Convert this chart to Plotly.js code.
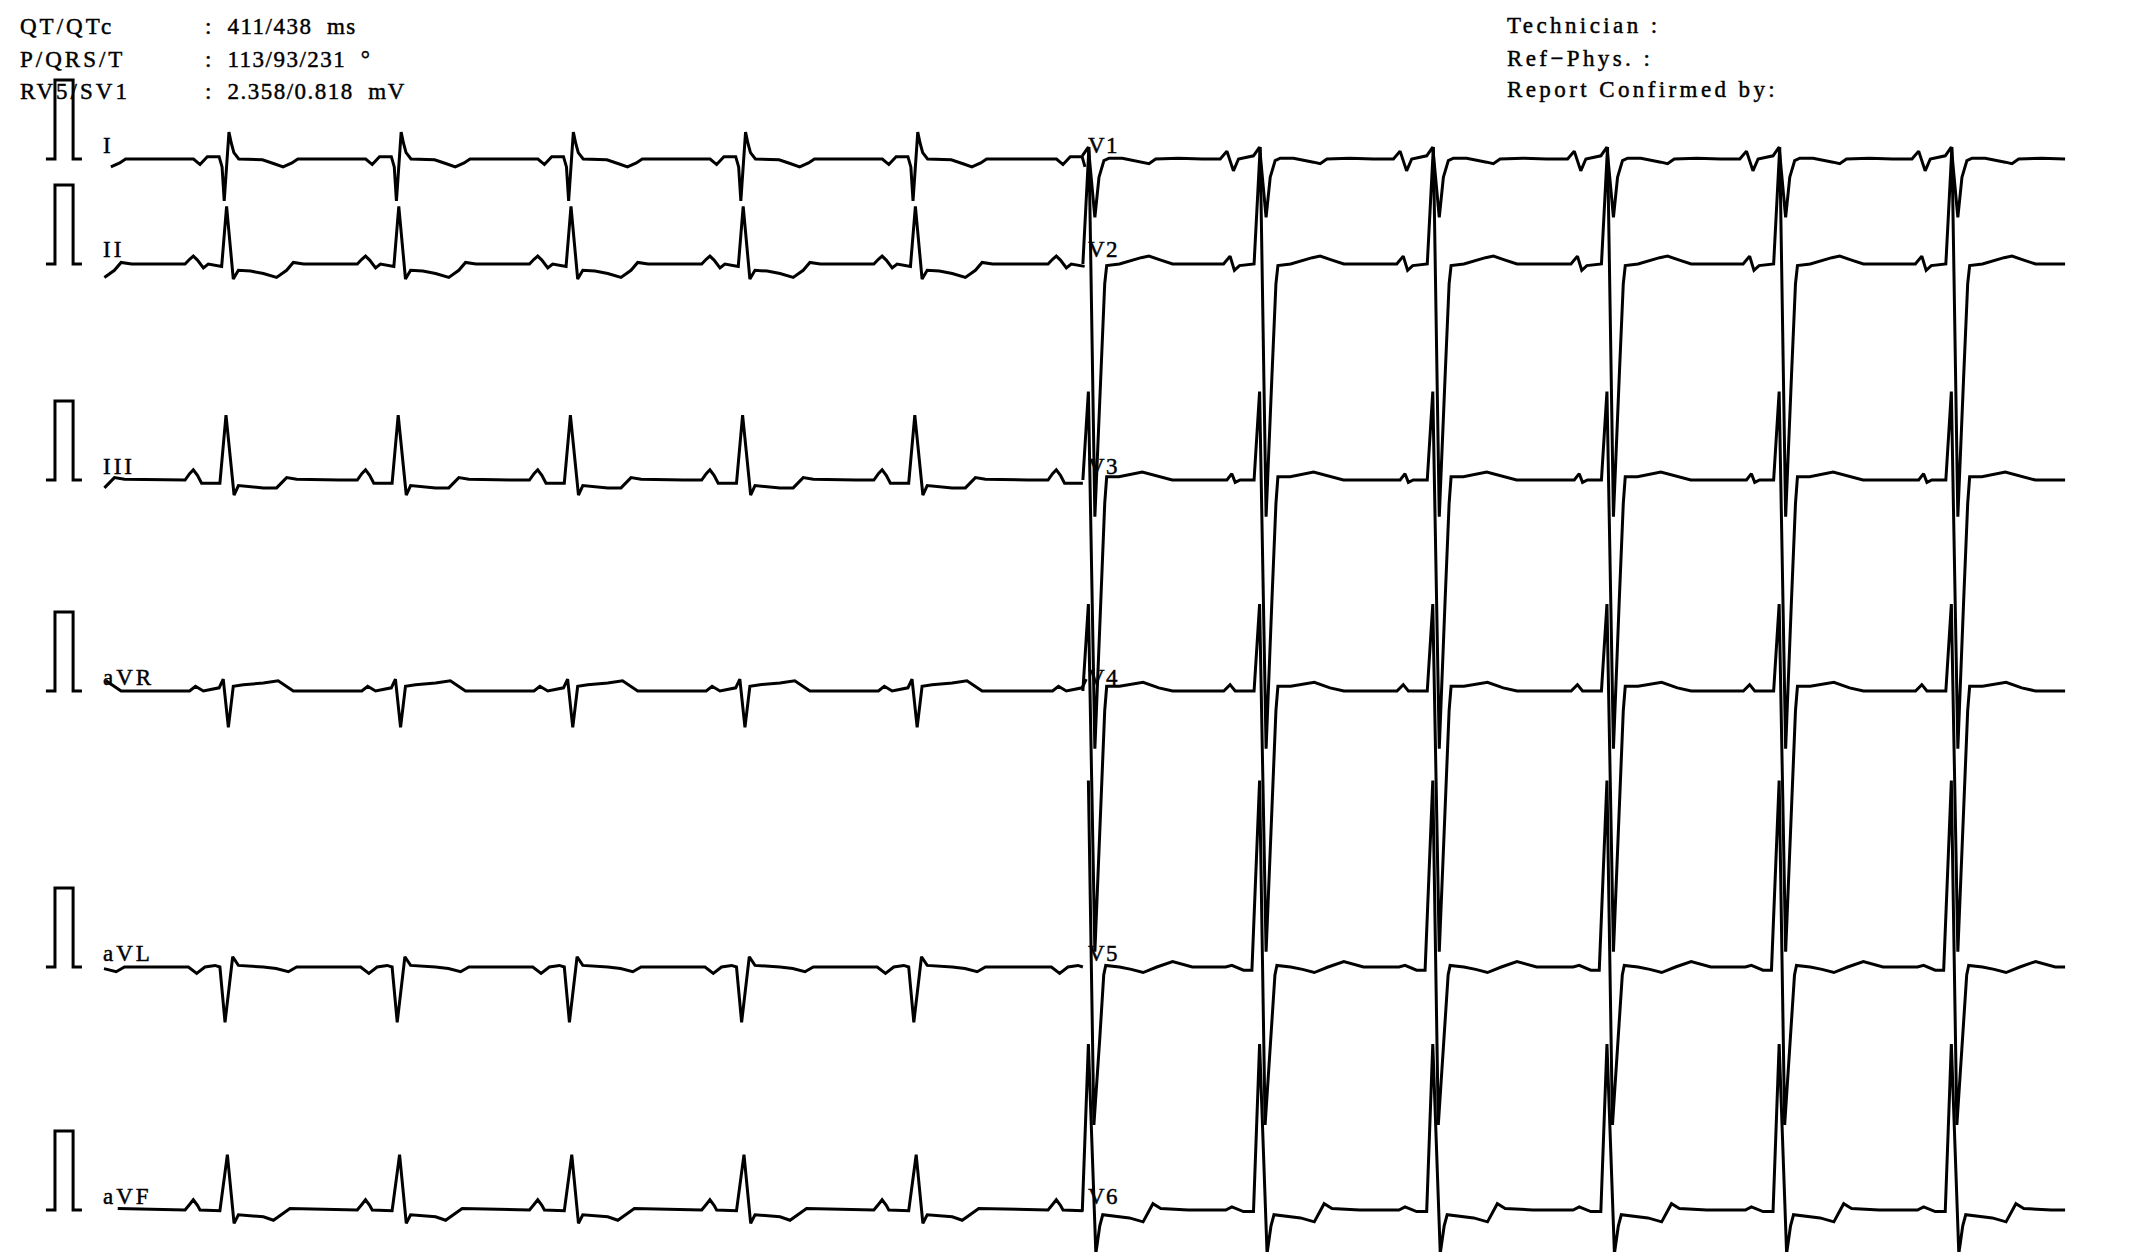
<!DOCTYPE html>
<html>
<head>
<meta charset="utf-8">
<script src="https://cdn.plot.ly/plotly-3.0.1.min.js"></script>
<style>
html,body{margin:0;padding:0;background:#fff;overflow:hidden}
.annotation-text{stroke:#000;stroke-width:0.45px}
</style>
</head>
<body>
<div id="ecg" style="width:2143px;height:1252px"></div>
<script>
// ---------- DATA (read from the strip) ----------
// Beat fiducial times (s); the first is the beat before the strip whose T wave is visible
const beatTimes = [-0.245, 0.630, 1.505, 2.380, 3.255, 4.130, 5.015, 5.885, 6.765, 7.650, 8.525, 9.400];

const limbLeads  = ["I", "II", "III", "aVR", "aVL", "aVF"];
const chestLeads = ["V1", "V2", "V3", "V4", "V5", "V6"];

// Beat templates: time offset from fiducial (s) and amplitude (mV)
const I_t   = [-0.30, -0.17, -0.137, -0.10, -0.04, -0.025, -0.014, 0.010, 0.022, 0.035, 0.06, 0.18, 0.24, 0.285, 0.33, 0.36, 0.57];
const I_mv  = [0, 0, -0.07, 0.03, 0.03, -0.10, -0.53, 0.34, 0.20, 0.08, 0.0, -0.01, -0.06, -0.10, -0.05, 0, 0];

const II_t  = [-0.30, -0.213, -0.19, -0.171, -0.15, -0.12, -0.095, -0.027, -0.002, 0.032, 0.058, 0.12, 0.185, 0.252, 0.303, 0.337, 0.39, 0.57];
const II_mv = [0, 0, 0.06, 0.10, 0.05, -0.05, 0, -0.03, 0.73, -0.19, -0.08, -0.09, -0.12, -0.17, -0.08, 0.02, 0, 0];

const III_t  = [-0.30, -0.213, -0.19, -0.171, -0.15, -0.129, -0.036, -0.005, 0.036, 0.058, 0.185, 0.252, 0.303, 0.354, 0.57];
const III_mv = [0, 0, 0.08, 0.13, 0.06, -0.04, -0.04, 0.82, -0.19, -0.07, -0.10, -0.10, 0.03, 0.01, 0];

const aVR_t  = [-0.30, -0.19, -0.16, -0.12, -0.04, -0.019, 0.007, 0.032, 0.083, 0.185, 0.26, 0.337, 0.57];
const aVR_mv = [0, 0, 0.06, 0.0, 0.04, 0.15, -0.46, 0.06, 0.08, 0.10, 0.13, 0, 0];

const aVL_t  = [-0.30, -0.196, -0.154, -0.112, -0.061, -0.036, -0.010, 0.029, 0.058, 0.185, 0.25, 0.312, 0.354, 0.57];
const aVL_mv = [0, 0, -0.08, 0, 0.02, 0, -0.70, 0.13, 0.02, 0, -0.02, -0.06, 0, 0];

const aVF_t  = [-0.30, -0.213, -0.19, -0.171, -0.15, -0.137, -0.036, 0.002, 0.036, 0.058, 0.185, 0.236, 0.32, 0.57];
const aVF_mv = [0, 0, 0.07, 0.13, 0.06, 0, -0.01, 0.70, -0.17, -0.06, -0.085, -0.13, 0.02, 0];

const V1_t  = [-0.30, -0.208, -0.174, -0.141, -0.115, -0.039, -0.008, 0.025, 0.046, 0.071, 0.097, 0.164, 0.266, 0.30, 0.334, 0.45, 0.57];
const V1_mv = [0, 0, 0.10, -0.15, 0, 0.04, 0.15, -0.74, -0.23, -0.02, 0.01, 0.01, -0.04, -0.06, 0, 0.01, 0];

const V2_t  = [-0.30, -0.191, -0.158, -0.136, -0.11, -0.036, -0.005, 0.025, 0.055, 0.075, 0.085, 0.15, 0.26, 0.30, 0.36, 0.42, 0.57];
const V2_mv = [0, 0, 0.10, -0.08, -0.02, 0, 1.48, -3.2, -1.4, -0.25, -0.02, 0, 0.08, 0.10, 0.05, 0, 0];

const V3_t  = [-0.30, -0.174, -0.149, -0.132, -0.107, -0.036, -0.008, 0.025, 0.055, 0.075, 0.085, 0.147, 0.266, 0.35, 0.418, 0.57];
const V3_mv = [0, 0, 0.08, -0.03, 0, 0, 1.12, -3.4, -1.5, -0.3, 0.04, 0.04, 0.10, 0.04, 0, 0];

const V4_t  = [-0.30, -0.19, -0.158, -0.132, -0.036, -0.008, 0.025, 0.055, 0.075, 0.085, 0.15, 0.27, 0.35, 0.42, 0.57];
const V4_mv = [0, 0, 0.08, 0, 0, 1.10, -3.3, -1.4, -0.25, 0.06, 0.06, 0.11, 0.04, 0, 0];

const V5_t  = [-0.30, -0.18, -0.149, -0.09, -0.047, -0.008, 0.02, 0.05, 0.07, 0.08, 0.15, 0.21, 0.27, 0.34, 0.42, 0.52, 0.57];
const V5_mv = [0, 0, 0.02, -0.04, -0.04, 2.36, -2.0, -0.9, -0.1, 0.02, 0, -0.03, -0.07, 0.0, 0.07, 0, 0];

const V6_t  = [-0.30, -0.18, -0.149, -0.09, -0.039, -0.008, 0.03, 0.05, 0.065, 0.12, 0.2, 0.27, 0.32, 0.36, 0.5, 0.57];
const V6_mv = [0, 0, 0.04, -0.02, -0.02, 2.1, -0.55, -0.2, -0.06, -0.08, -0.1, -0.15, 0.08, 0.02, 0, 0];

// 1 mV calibration pulse
const calT  = [-0.29, -0.244, -0.244, -0.152, -0.152, -0.107];
const calMv = [0, 0, 1, 1, 0, 0];

// Header text
const headerLabels = ["QT/QTc", "P/QRS/T", "RV5/SV1"];
const headerValues = ["411/438  ms", "113/93/231  °", "2.358/0.818  mV"];
const rightHeader  = ["Technician :", "Ref\u2212Phys. :", "Report Confirmed by:"];

// ---------- LAYOUT CONSTANTS ----------
const W = 2143, H = 1252;
const X0 = 103;          // px of t = 0
const PX_PER_S = 196.8;  // 25 mm/s
const PX_PER_MV = 79;    // 10 mm/mV
const rowPx = [159, 264, 480, 691, 967, 1210];
const limbWin = [0, 5.0], chestWin = [4.975, 10.0];
const FONT = "Liberation Serif, Times New Roman, serif";

const templates = {
  I: [I_t, I_mv], II: [II_t, II_mv], III: [III_t, III_mv],
  aVR: [aVR_t, aVR_mv], aVL: [aVL_t, aVL_mv], aVF: [aVF_t, aVF_mv],
  V1: [V1_t, V1_mv], V2: [V2_t, V2_mv], V3: [V3_t, V3_mv],
  V4: [V4_t, V4_mv], V5: [V5_t, V5_mv], V6: [V6_t, V6_mv]
};

function buildLead(name, win, offset) {
  const [tt, vv] = templates[name];
  const xs = [], ys = [];
  beatTimes.forEach(b => {
    tt.forEach((dt, i) => {
      const t = b + dt;
      if (t >= win[0] && t <= win[1]) { xs.push(t); ys.push(vv[i] + offset); }
    });
  });
  return { type: "scatter", mode: "lines", x: xs, y: ys, name: name,
           line: { color: "#000", width: 3 }, hoverinfo: "skip" };
}

const traces = [];
const annotations = [];
const px2x = p => p / W, px2y = p => 1 - p / H;

rowPx.forEach((rp, r) => {
  const off = -rp / PX_PER_MV;
  traces.push(buildLead(limbLeads[r], limbWin, off));
  traces.push(buildLead(chestLeads[r], chestWin, off));
  traces.push({ type: "scatter", mode: "lines", x: calT, y: calMv.map(v => v + off),
                line: { color: "#000", width: 3 }, hoverinfo: "skip" });
  annotations.push({ xref: "paper", yref: "paper", x: px2x(101), y: px2y(rp - 14),
    xanchor: "left", yanchor: "middle", showarrow: false,
    text: '<span style="letter-spacing:3px">' + limbLeads[r] + '</span>',
    font: { family: FONT, size: 23, color: "#000" } });
  annotations.push({ xref: "paper", yref: "paper", x: px2x(1086), y: px2y(rp - 14),
    xanchor: "left", yanchor: "middle", showarrow: false,
    text: '<span style="letter-spacing:1.5px">' + chestLeads[r] + '</span>',
    font: { family: FONT, size: 23, color: "#000" } });
});

const headY = [27, 60, 92];
const rightY = [25, 59, 90];
headerLabels.forEach((lab, i) => {
  annotations.push({ xref: "paper", yref: "paper", x: px2x(18), y: px2y(headY[i]),
    xanchor: "left", yanchor: "middle", showarrow: false,
    text: '<span style="letter-spacing:3px">' + lab + '</span>',
    font: { family: FONT, size: 23, color: "#000" } });
  annotations.push({ xref: "paper", yref: "paper", x: px2x(203), y: px2y(headY[i]),
    xanchor: "left", yanchor: "middle", showarrow: false,
    text: '<span style="letter-spacing:1.5px">:\u00a0\u00a0' + headerValues[i].replace(/ /g, "\u00a0") + '</span>',
    font: { family: FONT, size: 23, color: "#000" } });
});
rightHeader.forEach((lab, i) => {
  annotations.push({ xref: "paper", yref: "paper", x: px2x(1505), y: px2y(rightY[i]),
    xanchor: "left", yanchor: "middle", showarrow: false,
    text: '<span style="letter-spacing:3.4px">' + lab + '</span>',
    font: { family: FONT, size: 23, color: "#000" } });
});

const layout = {
  width: W, height: H,
  margin: { l: 0, r: 0, t: 0, b: 0, pad: 0 },
  paper_bgcolor: "#fff", plot_bgcolor: "#fff",
  showlegend: false,
  xaxis: { range: [-X0 / PX_PER_S, (W - X0) / PX_PER_S], visible: false, fixedrange: true },
  yaxis: { range: [-H / PX_PER_MV, 0], visible: false, fixedrange: true },
  annotations: annotations
};

Plotly.newPlot("ecg", traces, layout, { displayModeBar: false, staticPlot: true });
</script>
</body>
</html>
